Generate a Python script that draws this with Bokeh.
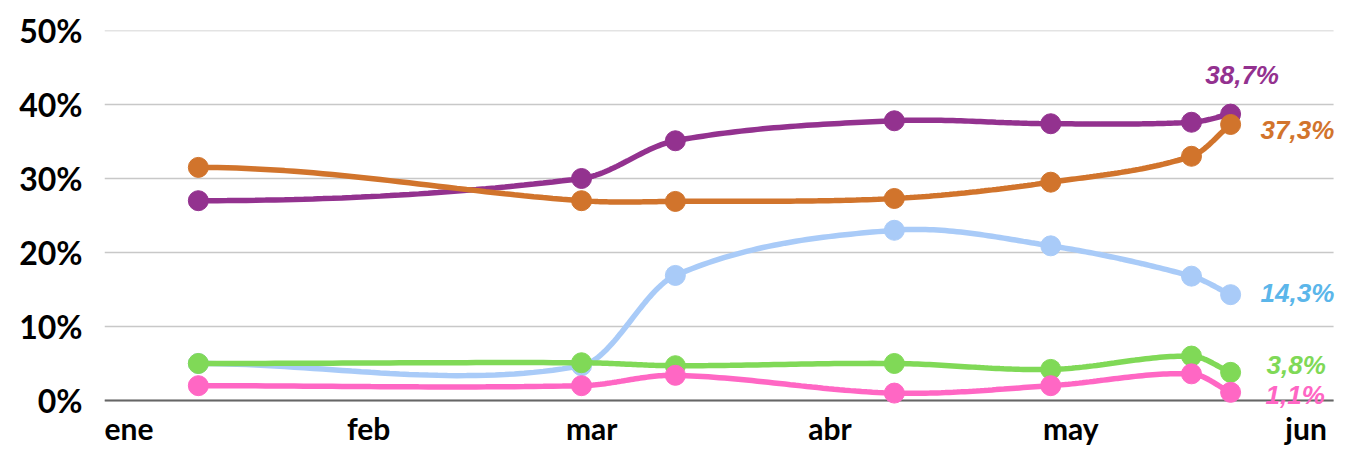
import numpy as np
import pandas as pd
from bokeh.plotting import figure
from bokeh.models import FixedTicker, Range1d, PrintfTickFormatter
from bokeh.core.properties import value
from bokeh.embed import file_html
from bokeh.resources import INLINE

# ---- data ----
dates = ["2023-01-13", "2023-03-03", "2023-03-15", "2023-04-12", "2023-05-02", "2023-05-20", "2023-05-25"]
purple_vals = [27.0, 30.0, 35.1, 37.8, 37.4, 37.6, 38.7]
orange_vals = [31.5, 27.0, 26.9, 27.3, 29.5, 33.0, 37.3]
blue_vals = [5.0, 4.7, 16.9, 23.0, 20.9, 16.8, 14.3]
green_vals = [5.0, 5.1, 4.7, 5.0, 4.2, 6.0, 3.8]
pink_vals = [2.0, 2.0, 3.4, 1.0, 2.0, 3.6, 1.1]

month_starts = ["2023-01-01", "2023-02-01", "2023-03-01", "2023-04-01", "2023-05-01", "2023-06-01"]
month_labels = ["ene", "feb", "mar", "abr", "may", "jun"]
y_ticks = [0, 10, 20, 30, 40, 50]

end_labels = ["38,7%", "37,3%", "14,3%", "3,8%", "1,1%"]


def to_ms(s):
    return pd.Timestamp(s).value / 1e6


def smooth(xs, ys, n=40):
    xs = np.asarray(xs, float)
    ys = np.asarray(ys, float)
    k = len(xs)
    m = np.zeros(k)
    for i in range(k):
        if i == 0:
            m[i] = 0.0
        elif i == k - 1:
            m[i] = (ys[-1] - ys[-2]) / (xs[-1] - xs[-2])
        else:
            m[i] = (ys[i + 1] - ys[i - 1]) / (xs[i + 1] - xs[i - 1])
    ox, oy = [], []
    for i in range(k - 1):
        h = xs[i + 1] - xs[i]
        t = np.linspace(0, 1, n, endpoint=(i == k - 2))
        h00 = 2 * t**3 - 3 * t**2 + 1
        h10 = t**3 - 2 * t**2 + t
        h01 = -2 * t**3 + 3 * t**2
        h11 = t**3 - t**2
        ox.extend(xs[i] + t * h)
        oy.extend(h00 * ys[i] + h10 * h * m[i] + h01 * ys[i + 1] + h11 * h * m[i + 1])
    return ox, oy


xms = [to_ms(d) for d in dates]
x_start = to_ms("2023-01-01")
x_end = to_ms("2023-06-08 10:30")
grid_end = to_ms("2023-06-07 04:00")

p = figure(width=1347, height=458, output_backend="svg", toolbar_location=None,
           x_axis_type="datetime",
           x_range=Range1d(x_start, x_end),
           y_range=Range1d(-7.03, 50),
           min_border_left=104, min_border_right=4, min_border_top=30, min_border_bottom=6)
p.outline_line_color = None
p.background_fill_color = "white"
p.border_fill_color = "white"

FONT = "Lato"
LABEL_FONT = "Liberation Sans"

p.xaxis.visible = False
p.xgrid.visible = False
p.ygrid.visible = False

p.yaxis.ticker = FixedTicker(ticks=y_ticks)
p.yaxis.formatter = PrintfTickFormatter(format="%d%%")
p.yaxis.major_label_text_font = FONT
p.yaxis.major_label_text_font_style = "bold"
p.yaxis.major_label_text_font_size = "32px"
p.yaxis.major_label_text_color = "black"
p.yaxis.major_tick_out = 0
p.yaxis.major_tick_in = 0
p.yaxis.major_label_standoff = 22
p.yaxis.major_tick_line_color = None
p.yaxis.minor_tick_line_color = None
p.yaxis.axis_line_color = None

# horizontal gridlines and baseline
p.segment(x0=[x_start] * len(y_ticks), x1=[grid_end] * len(y_ticks), y0=y_ticks, y1=y_ticks,
          line_color="#c8c8c8", line_width=1.5)
p.segment(x0=[x_start], x1=[grid_end], y0=[y_ticks[0]], y1=[y_ticks[0]],
          line_color="#666666", line_width=2)

# month labels
p.text(x=[to_ms(d) for d in month_starts], y=[0] * len(month_starts), text=month_labels,
       text_align="left", text_baseline="alphabetic", y_offset=28,
       text_font=value(FONT), text_font_style="bold", text_font_size="30px", text_color="black")

series = [
    (purple_vals, "#93328f"),
    (orange_vals, "#d1742c"),
    (blue_vals, "#a9cbf8"),
    (green_vals, "#80d957"),
    (pink_vals, "#ff67c4"),
]
for vals, col in series:
    sx, sy = smooth(xms, vals)
    p.line(sx, sy, line_color=col, line_width=5.5)
    p.scatter(xms, vals, size=20, fill_color=col, line_color=col)

last_x = xms[-1]
p.text(x=[last_x] * 5,
       y=[purple_vals[-1], orange_vals[-1], blue_vals[-1], green_vals[-1], pink_vals[-1]],
       text=end_labels,
       text_color=["#93318f", "#d2742c", "#5bb6ea", "#7fd957", "#ff66c4"],
       x_offset=[11.5, 30, 30, 36, 35],
       y_offset=[-39, 6, -2, -7, 3],
       text_align=["center", "left", "left", "left", "left"],
       text_baseline="alphabetic",
       text_font=value(LABEL_FONT), text_font_style="bold italic", text_font_size="26px")

open("out.html", "w").write(file_html(p, INLINE))
